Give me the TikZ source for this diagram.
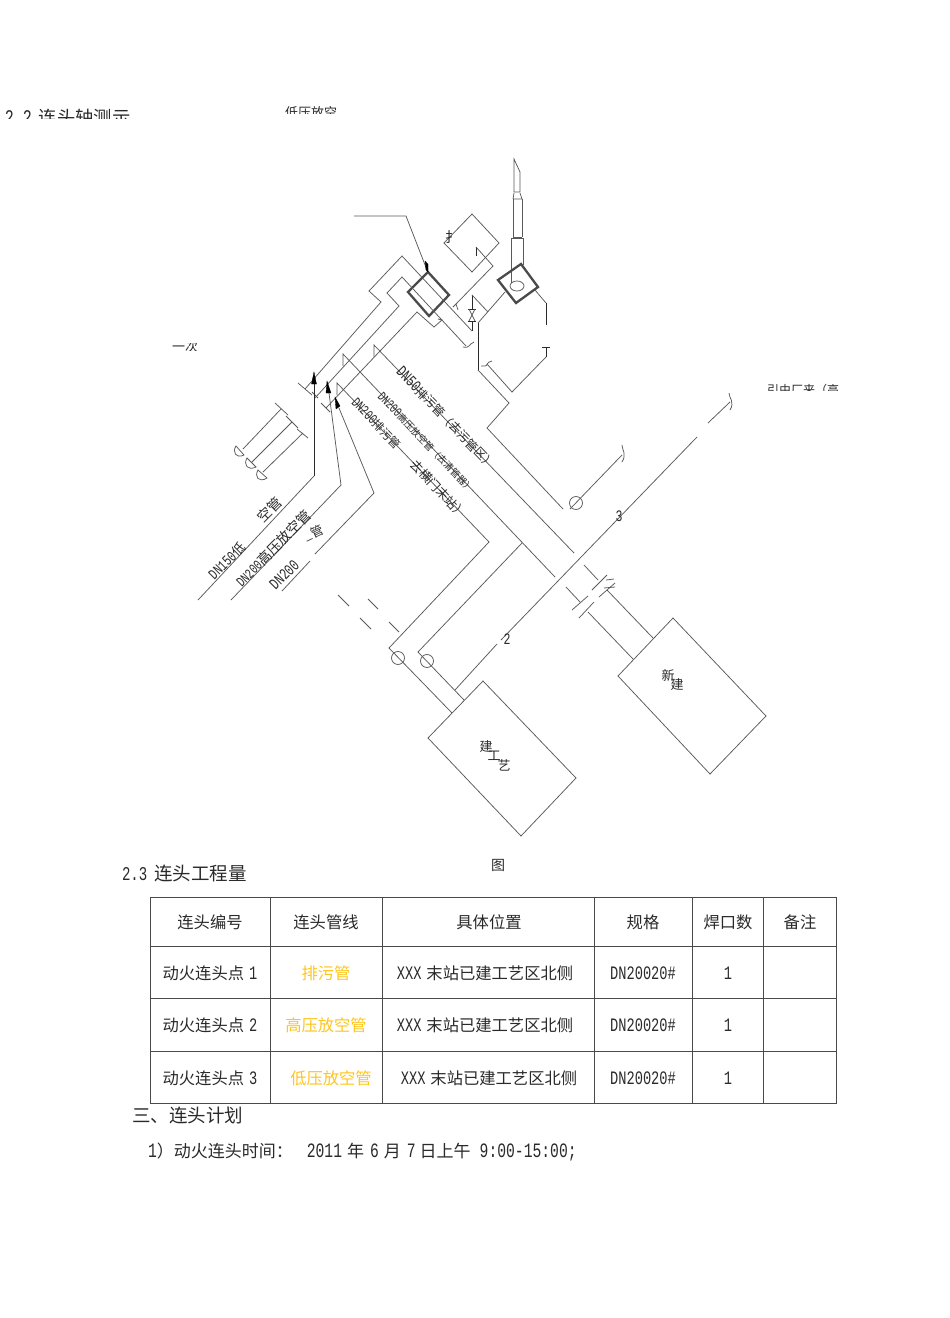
\documentclass[tikz,border=0pt]{standalone}
\usepackage{fontspec}
\setmainfont{Noto Sans CJK SC}
\newfontfamily\mn[FakeStretch=0.72]{Liberation Mono}
\definecolor{pipegray}{HTML}{5A5A5A}
\definecolor{inkgray}{HTML}{2A2A2A}
\definecolor{tableline}{HTML}{4A4A4A}
\definecolor{yellowtext}{HTML}{FFC51F}
\newcommand{\fs}[1]{\fontsize{#1}{#1}\selectfont}
\newcommand{\lat}[2]{{\mn\fs{#1}#2}}
\tikzset{
  pipe/.style={draw=pipegray,line width=.75pt,line join=miter},
  darkpipe/.style={draw=inkgray,line width=1pt},
  heavybox/.style={draw=inkgray!85,line width=2.3pt},
  lbl/.style={inner sep=0pt,outer sep=0pt,text=inkgray},
  cell/.style={lbl,anchor=center,font=\fs{16.3}},
  tbl/.style={draw=tableline,line width=.8pt},
  tip/.style={fill=black,draw=black,line width=.3pt}
}
\begin{document}
\begin{tikzpicture}[x=1pt,y=-1pt]
\useasboundingbox (0,0) rectangle (950,1318);
\fill[white] (0,0) rectangle (950,1318);

% clipped text fragments
\begin{scope}
\clip (0,100) rectangle (200,118);
\node[lbl,anchor=base west,font=\fs{18.3}] (h22) at (5,124) {\lat{20.8}{2.2}\hspace{7pt}连头轴测示};
\end{scope}
\begin{scope}
\clip (270,100) rectangle (350,113);
\node[lbl,anchor=base west,font=\fs{13}] (lowtop) at (285,117) {低压放空};
\end{scope}
\begin{scope}
\clip (165,343) rectangle (205,350);
\node[lbl,anchor=west,font=\fs{13}] (yici) at (172,347) {一次};
\end{scope}
\begin{scope}
\clip (760,382) rectangle (845,390);
\node[lbl,anchor=base west,font=\fs{12}] (incoming) at (767,394) {引由厂来（高};
\end{scope}

% chimney
\draw[pipe] (514,159) -- (520,172) -- (520,192) -- (514,192) -- cycle;
\draw[pipe] (513,199) -- (514,193) (522,199) -- (520,193) (513,199) -- (522,199);
\draw[pipe] (513,199) -- (513,237) (522,199) -- (522,237) (513,237) -- (522,237);
\draw[pipe] (511,238) -- (523,238) (511,238) -- (511,283) (523,238) -- (523,265);
\draw[pipe] (517,286) ellipse (7 and 5);
\draw[heavybox] (521,264) -- (538,287) -- (516,303) -- (498,280) -- cycle;

% heavy box and leader
\draw[heavybox] (428,272) -- (449,295) -- (429,316) -- (408,292) -- cycle;
\draw[pipe] (354,216) -- (406,216) -- (427,270);
\fill[tip] (425,261) -- (428,264) -- (428,272) -- (426,270) -- cycle;

% square with tail
\draw[pipe] (472,214) -- (499,243) -- (472,272) -- (444,243) -- cycle;
\node[lbl,font=\fs{14}] (shou) at (452,237) {扌};
\draw[darkpipe] (476,256) -- (476,247);
\draw[pipe] (476,247) -- (493,266) -- (456,304) (453,307) -- (456,304) -- (458,310);

% three pipes, upper left
\draw[pipe] (305,389) -- (381,302) -- (369,291) -- (402,256) -- (472,331);
\draw[pipe] (281,409) -- (243,449);
\draw[pipe] (315,398) -- (399,306) -- (387,293) -- (402,277) -- (466,346);
\draw[pipe] (292,422) -- (252,462);
\draw[pipe] (326,408) -- (417,312) -- (434,327) -- (442,320) -- (438,319);
\draw[pipe] (303,433) -- (263,472);
\draw[pipe] (298,383) -- (312,395) (275,403) -- (288,415) (286,416) -- (298,428);
\draw[pipe] (312,392) -- (318,398) (321,403) -- (330,412) (297,429) -- (308,438);
\draw[pipe] (236,446) .. controls (232,452) and (236,459) .. (244,455) -- cycle;
\draw[pipe] (247,458) .. controls (243,465) and (248,471) .. (256,467) -- cycle;
\draw[pipe] (258,470) .. controls (254,477) and (259,483) .. (267,478) -- cycle;

% right side of heavy box
\draw[pipe] (463,347) .. controls (469,349) and (469,344) .. (474,342);
\draw[darkpipe] (472,295) -- (472,309) (472,321) -- (472,331);
\draw[darkpipe] (468,309) -- (476,309) (468,321) -- (476,321);
\draw[pipe] (469,309) -- (475,321) (475,309) -- (469,321);
\draw[pipe] (472,295) -- (488,312);
\draw[darkpipe] (478,323) -- (478,370);
\draw[pipe] (478,323) -- (505,292);
\draw[pipe] (478,370) -- (509,403) -- (487,428) -- (563,509);
\draw[pipe] (481,366) -- (485,366) .. controls (488,366) and (486,362) .. (492,361);
\draw[pipe] (487,364) -- (512,392) -- (546,357);
\draw[darkpipe] (546,357) -- (546,347) (542,347) -- (550,347);
\draw[pipe] (535,290) -- (546,303);
\draw[darkpipe] (546,303) -- (546,325);

% flags and long pipes
\draw[pipe] (374,357) -- (374,345) -- (574,553);
\draw[pipe] (343,366) -- (343,354) -- (555,577);
\draw[pipe] (337,395) -- (337,383) -- (489,542) -- (389,648) -- (452,713);
\draw[pipe] (522,543) -- (418,652) -- (464,700);
\draw[pipe] (398,658) circle (6.5);
\draw[pipe] (427,661) circle (6.5);

% leaders to lower left
\draw[darkpipe] (314,383) -- (314,476);
\draw[pipe] (314,476) -- (198,600);
\fill[tip] (314,372) -- (316.5,384) -- (311.5,384) -- cycle;
\draw[pipe] (329,393) -- (341,485) -- (231,600);
\fill[tip] (327,381) -- (331,393) -- (326,393) -- cycle;
\draw[pipe] (339,408) -- (374,493) -- (315,554) (310,561) -- (282,591);
\fill[tip] (335,397) -- (340,406) -- (336,409) -- cycle;

% dashes
\draw[pipe] (338,595) -- (349,606) (368,599) -- (378,609) (360,618) -- (371,629) (389,622) -- (399,632);

% main diagonal
\draw[pipe] (455,690) -- (497,644) (501,640) -- (697,437) (708,423) -- (730,402);
\draw[pipe] (729,393) .. controls (729,398) and (735,402) .. (730,410);
\draw[pipe] (570,509) -- (622,455);
\draw[pipe] (576,503) circle (6.5);
\draw[pipe] (622,445) .. controls (622,450) and (627,454) .. (622,462);

% new connection
\draw[pipe] (584,565) -- (598,580) (607,590) -- (653,638);
\draw[pipe] (566,587) -- (580,602) (588,612) -- (633,659);
\draw[pipe] (592,590) -- (607,575) (599,597) -- (615,583);
\draw[pipe] (572,610) -- (588,596) (579,618) -- (594,602);
\draw[pipe] (606,580) -- (614,579) (604,588) -- (615,587);

% boxes
\draw[pipe] (673,618) -- (766,716) -- (710,774) -- (618,676) -- cycle;
\draw[pipe] (483,681) -- (576,778) -- (521,836) -- (428,738) -- cycle;
\node[lbl,font=\fs{13}] (xin) at (668,675) {新};
\node[lbl,font=\fs{13}] (jian) at (677,685) {建};
\node[lbl,font=\fs{13}] (jian2) at (486,747) {建};
\node[lbl,font=\fs{13}] (gong) at (494,756) {工};
\node[lbl,font=\fs{13}] (yi) at (504,765) {艺};
\node[lbl] (num3) at (619,516) {\lat{16}{3}};
\node[lbl] (num2) at (507,639) {\lat{16}{2}};

% rotated pipe labels
\node[lbl,anchor=west,rotate=-46,font=\fs{12}] (l1) at (399,369) {\lat{16}{DN50}排污管（去污管区）};
\node[lbl,anchor=west,rotate=-46,font=\fs{9.5}] (l2) at (380,395) {\lat{13}{DN200}高压放空管（去清管器）};
\node[lbl,anchor=west,rotate=-46,font=\fs{11.5}] (l3) at (354,400) {\lat{14}{DN200}排污管};
\node[lbl,anchor=west,rotate=-47,font=\fs{12.5}] (l3b) at (413,462) {去横门末站）};
\node[lbl,anchor=west,rotate=45,font=\fs{13}] (l4) at (211,577) {\lat{15}{DN150}低};
\node[lbl,anchor=west,rotate=45,font=\fs{14}] (l4b) at (260,520) {空管};
\node[lbl,anchor=west,rotate=45,font=\fs{14}] (l5) at (238,584) {\lat{14}{DN200}高压放空管};
\node[lbl,anchor=west,rotate=45] (l6) at (272,587) {\lat{16}{DN200}};
\node[lbl,anchor=west,rotate=25,font=\fs{12.5}] (l6b) at (305,537) {\_管};

\node[lbl,font=\fs{14}] (fig) at (498,865) {图};

% headings
\node[lbl,anchor=west,font=\fs{18.5}] (h23) at (122,873) {\lat{19.5}{2.3}\hspace{7pt}连头工程量};
\node[lbl,anchor=west,font=\fs{18.5}] (h3) at (132,1115) {三、连头计划};
\node[lbl,anchor=west,font=\fs{17}] (plan) at (148,1152) {\lat{20.4}{1}）动火连头时间：\hspace{14pt}\lat{20.4}{2011}\hspace{5pt}年\hspace{6pt}\lat{20.4}{6}\hspace{5pt}月\hspace{6pt}\lat{20.4}{7}\hspace{4pt}日上午\hspace{9pt}\lat{20.4}{9:00-15:00;}};

% table
\draw[tbl] (150,897) rectangle (836,1103);
\foreach \yy in {946,998,1051} \draw[tbl] (150,\yy) -- (836,\yy);
\foreach \xx in {270,382,594,692,763} \draw[tbl] (\xx,897) -- (\xx,1103);

\node[cell] (a1) at (210,922) {连头编号};
\node[cell] (a2) at (326,922) {连头管线};
\node[cell] (a3) at (489,922) {具体位置};
\node[cell] (a4) at (643,922) {规格};
\node[cell] (a5) at (728,922) {焊口数};
\node[cell] (a6) at (800,922) {备注};

\node[cell] (b1) at (210,973) {动火连头点\hspace{5pt}\lat{19}{1}};
\node[cell,text=yellowtext] (b2) at (326,973) {排污管};
\node[cell] (b3) at (485,973) {\lat{19}{XXX}\hspace{5pt}末站已建工艺区北侧};
\node[cell] (b4) at (643,973) {\lat{19}{DN20020\#}};
\node[cell] (b5) at (728,973) {\lat{19}{1}};

\node[cell] (c1) at (210,1025) {动火连头点\hspace{5pt}\lat{19}{2}};
\node[cell,text=yellowtext] (c2) at (326,1025) {高压放空管};
\node[cell] (c3) at (485,1025) {\lat{19}{XXX}\hspace{5pt}末站已建工艺区北侧};
\node[cell] (c4) at (643,1025) {\lat{19}{DN20020\#}};
\node[cell] (c5) at (728,1025) {\lat{19}{1}};

\node[cell] (d1) at (210,1078) {动火连头点\hspace{5pt}\lat{19}{3}};
\node[cell,text=yellowtext] (d2) at (331,1078) {低压放空管};
\node[cell] (d3) at (489,1078) {\lat{19}{XXX}\hspace{5pt}末站已建工艺区北侧};
\node[cell] (d4) at (643,1078) {\lat{19}{DN20020\#}};
\node[cell] (d5) at (728,1078) {\lat{19}{1}};
\end{tikzpicture}
\end{document}
